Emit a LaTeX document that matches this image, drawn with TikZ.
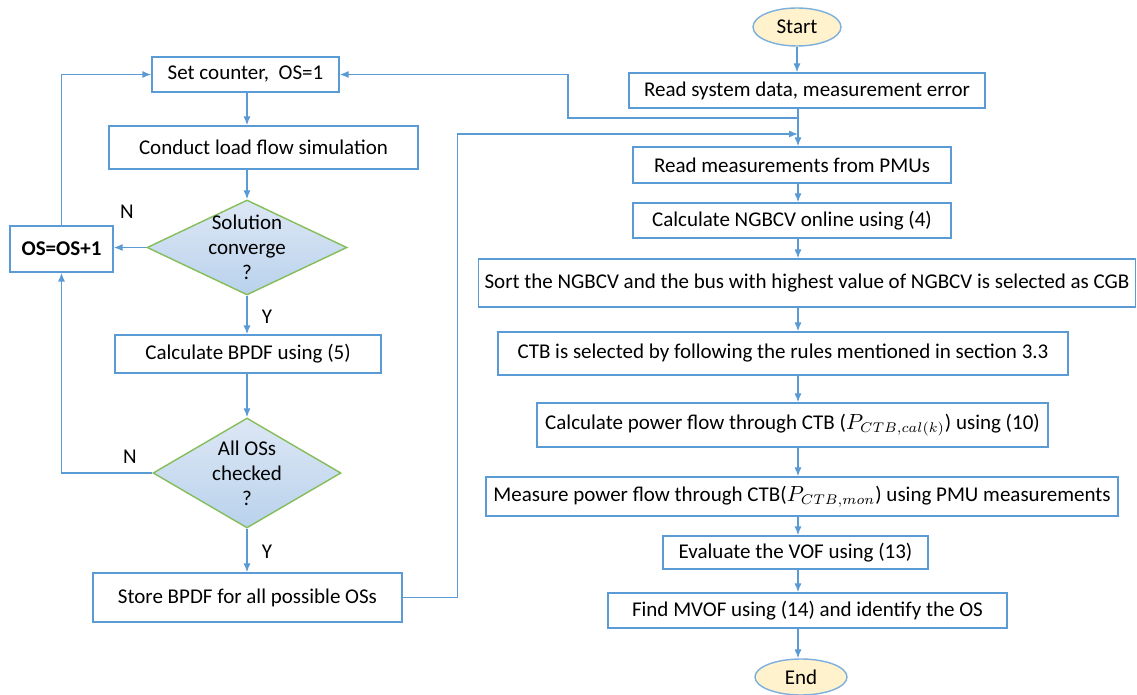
\documentclass[tikz,border=0pt]{standalone}
\usepackage{fontspec}
\setmainfont{Carlito}
\usetikzlibrary{shapes.geometric,arrows.meta}

\definecolor{flowblue}{HTML}{5B9BD5}
\definecolor{decgreen}{HTML}{84BD5A}
\definecolor{termfill}{HTML}{FFF2CC}
\definecolor{dectop}{HTML}{DDE7F5}
\definecolor{decbot}{HTML}{B9D2EC}

\tikzset{
  txt/.style={font=\fontsize{10.5}{12.6}\selectfont},
  procbox/.style={txt, draw=flowblue, line width=0.7pt, fill=white, inner sep=0pt},
  decision/.style={diamond, draw=decgreen, line width=0.7pt, top color=dectop, bottom color=decbot, inner sep=0pt},
  terminal/.style={txt, ellipse, draw=flowblue!80, line width=0.7pt, fill=termfill, inner sep=0pt},
  flow/.style={draw=flowblue, line width=0.7pt, -{Latex[length=4.5pt,width=3.6pt]}},
  plain/.style={draw=flowblue, line width=0.7pt}
}

\begin{document}
\begin{tikzpicture}[x=0.5pt,y=-0.5pt]
  \useasboundingbox (0,0) rectangle (1137,695);

  % Left loop over the operating states
  \node[procbox, minimum width=93.5pt, minimum height=17.5pt] (setc) at (245.5,74.5) {Set counter,\ \ OS=1};
  \node[procbox, minimum width=154.5pt, minimum height=21.5pt] (loadflow) at (263.5,147.5) {Conduct load flow simulation};
  \node[decision, minimum width=100pt, minimum height=47.5pt,
        label={[txt, align=center]center:Solution\\converge\\?}] (conv) at (247,247.5) {};
  \node[procbox, minimum width=51.5pt, minimum height=23pt, font=\fontsize{10.5}{12.6}\selectfont\bfseries] (osinc) at (61.5,249) {OS=OS+1};
  \node[procbox, minimum width=133pt, minimum height=19pt] (bpdf) at (248,354) {Calculate BPDF using (5)};
  \node[decision, minimum width=94pt, minimum height=55pt,
        label={[txt, align=center]center:All OSs\\checked\\?}] (allos) at (247,473) {};
  \node[procbox, minimum width=154.5pt, minimum height=24.5pt] (store) at (247.5,597.5) {Store BPDF for all possible OSs};

  % Y / N labels
  \node[txt] (n1) at (127,212) {N};
  \node[txt] (y1) at (267,317) {Y};
  \node[txt] (n2) at (130,457) {N};
  \node[txt] (y2) at (267,552) {Y};

  % Right column, online part
  \node[terminal, minimum width=44pt, minimum height=19pt] (start) at (797,27) {Start};
  \node[procbox, minimum width=178pt, minimum height=17.5pt] (readsys) at (807,90.5) {Read system data, measurement error};
  \node[procbox, minimum width=159pt, minimum height=18pt] (readmeas) at (792,165) {Read measurements from PMUs};
  \node[procbox, minimum width=159pt, minimum height=17.5pt] (ngbcv) at (792,220.5) {Calculate NGBCV online using (4)};
  \node[procbox, minimum width=328.5pt, minimum height=24pt] (sortcgb) at (807,283) {Sort the NGBCV and the bus with highest value of NGBCV is selected as CGB};
  \node[procbox, minimum width=285pt, minimum height=21.5pt] (ctb) at (783,353.5) {CTB is selected by following the rules mentioned in section 3.3};
  \node[procbox, minimum width=255.5pt, minimum height=22pt] (calcpow) at (792.5,425) {Calculate power flow through CTB ($P_{CTB,cal(k)}$) using (10)};
  \node[procbox, minimum width=316pt, minimum height=19.5pt] (measpow) at (802,496.5) {Measure power flow through CTB($P_{CTB,mon}$) using PMU measurements};
  \node[procbox, minimum width=132.5pt, minimum height=16.5pt] (vof) at (795.5,552.5) {Evaluate the VOF using (13)};
  \node[procbox, minimum width=199.5pt, minimum height=17.5pt] (mvof) at (807.5,610.5) {Find MVOF using (14) and identify the OS};
  \node[terminal, minimum width=46pt, minimum height=18pt] (finish) at (801,677) {End};

  % Junctions on the right trunk
  \coordinate (join1) at (798,118);
  \coordinate (join2) at (798,134);
  \coordinate (bend1) at (568,118);

  % Left column arrows
  \draw[flow] (setc.south -| conv) -- (loadflow.north -| conv);
  \draw[flow] (loadflow.south -| conv) -- (conv.north);
  \draw[flow] (conv.south) -- (bpdf.north -| conv);
  \draw[flow] (bpdf.south -| conv) -- (allos.north);
  \draw[flow] (allos.south) -- (store.north -| allos);
  \draw[flow] (conv.west) -- (conv.west -| osinc.east);
  \draw[flow] (osinc.north) |- (setc.west);
  \draw[flow] (allos.west) -| (osinc.south);

  % Right trunk
  \draw[flow] (start.south) -- (readsys.north -| start);
  \draw[flow] (readsys.south -| join1) -- (readmeas.north -| join1);
  \draw[flow] (readmeas.south -| join1) -- (ngbcv.north -| join1);
  \draw[flow] (ngbcv.south -| join1) -- (sortcgb.north -| join1);
  \draw[flow] (sortcgb.south -| join1) -- (ctb.north -| join1);
  \draw[flow] (ctb.south -| join1) -- (calcpow.north -| join1);
  \draw[flow] (calcpow.south -| join1) -- (measpow.north -| join1);
  \draw[flow] (measpow.south -| join1) -- (vof.north -| join1);
  \draw[flow] (vof.south -| join1) -- (mvof.north -| join1);
  \draw[flow] (mvof.south -| join1) -- (finish.north -| join1);

  % Feedback links between the two columns
  \draw[flow] (join1) -- (bend1) |- (setc.east);
  \draw[flow] (store.east) -- ++(55,0) |- (join2);
\end{tikzpicture}
\end{document}
